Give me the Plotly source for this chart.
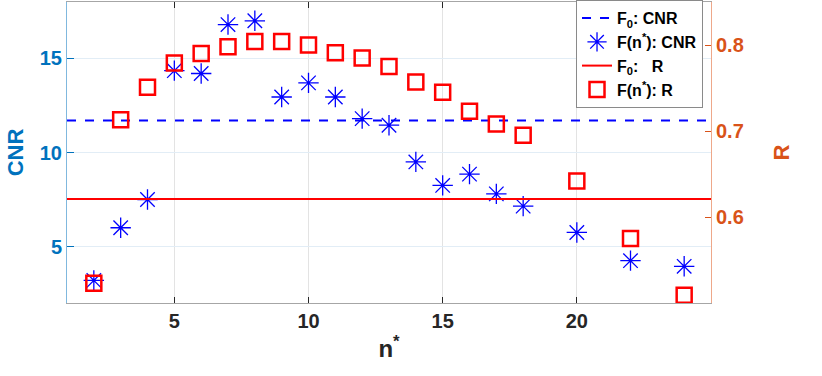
import plotly.graph_objects as go

# n* values and measured series
n_star = [2, 3, 4, 5, 6, 7, 8, 9, 10, 11, 12, 13, 14, 15, 16, 17, 18, 20, 22, 24]
cnr = [3.2, 6.0, 7.5, 14.35, 14.2, 16.8, 17.0, 12.95, 13.7, 12.95, 11.8, 11.45,
       9.5, 8.25, 8.85, 7.8, 7.15, 5.75, 4.25, 3.95]
r_val = [0.523, 0.713, 0.751, 0.779, 0.790, 0.798, 0.804, 0.804, 0.800, 0.791,
         0.785, 0.775, 0.757, 0.745, 0.723, 0.708, 0.695, 0.642, 0.575, 0.509]

# reference levels F0
f0_cnr = 11.7
f0_r = 0.621
n_range = [1, 25]

blue_axis = '#0072BD'
orange_axis = '#D95319'
font_fam = 'Liberation Sans, Arial, sans-serif'

fig = go.Figure()

fig.add_trace(go.Scatter(
    x=n_range, y=[f0_cnr, f0_cnr], mode='lines',
    line=dict(color='#0000FF', width=2, dash='dash'),
    name='F<sub>0</sub>: CNR'))

fig.add_trace(go.Scatter(
    x=n_star, y=cnr, mode='markers',
    marker=dict(symbol='asterisk-open', size=17, color='#0000FF',
                line=dict(color='#0000FF', width=1.3)),
    name='F(n<sup>*</sup>): CNR'))

fig.add_trace(go.Scatter(
    x=n_range, y=[f0_r, f0_r], mode='lines', yaxis='y2',
    line=dict(color='#FF0000', width=2),
    name='F<sub>0</sub>:\u00a0\u00a0 R'))

fig.add_trace(go.Scatter(
    x=n_star, y=r_val, mode='markers', yaxis='y2',
    marker=dict(symbol='square-open', size=15, color='#FF0000',
                line=dict(color='#FF0000', width=2.5)),
    name='F(n<sup>*</sup>): R'))

fig.update_layout(
    width=822, height=376,
    margin=dict(l=67, r=111, t=1, b=73),
    paper_bgcolor='white', plot_bgcolor='white',
    font=dict(family=font_fam, weight='bold', color='#262626'),
    xaxis=dict(
        range=n_range, tickvals=[5, 10, 15, 20],
        ticks='inside', ticklen=6, tickcolor='#262626',
        showline=True, linecolor='#a6a6a6', linewidth=1, mirror='ticks',
        showgrid=True, gridcolor='#e3e3e3', zeroline=False,
        tickfont=dict(size=20, color='#262626', weight='bold'),
        title=dict(text='n<sup>*</sup>', font=dict(size=24, weight='bold', color='#262626'),
                   standoff=9)),
    yaxis=dict(
        range=[2, 18], tickvals=[5, 10, 15],
        ticks='inside', ticklen=7, tickcolor=blue_axis,
        showline=True, linecolor='#80b8de', linewidth=1,
        showgrid=True, gridcolor='#e2edf6', zeroline=False,
        tickfont=dict(size=20, color=blue_axis, weight='bold'),
        title=dict(text='CNR', font=dict(size=22, weight='bold', color=blue_axis),
                   standoff=10)),
    yaxis2=dict(
        range=[0.5, 0.85], tickvals=[0.6, 0.7, 0.8], overlaying='y', side='right',
        ticks='inside', ticklen=6, tickcolor=orange_axis,
        showline=True, linecolor='#eea88a', linewidth=1,
        showgrid=False, zeroline=False,
        tickfont=dict(size=20, color=orange_axis, weight='bold'),
        title=dict(text='R', font=dict(size=22, weight='bold', color=orange_axis),
                   standoff=30)),
    legend=dict(
        x=0.9876, xanchor='right', y=1.003, yanchor='top',
        bgcolor='white', bordercolor='#8a8a8a', borderwidth=1,
        font=dict(size=16, color='black', weight='bold'),
        tracegroupgap=0),
    showlegend=True,
)

fig.write_html("out.html", config={'displayModeBar': False},
               post_script="document.body.style.margin='0';")
